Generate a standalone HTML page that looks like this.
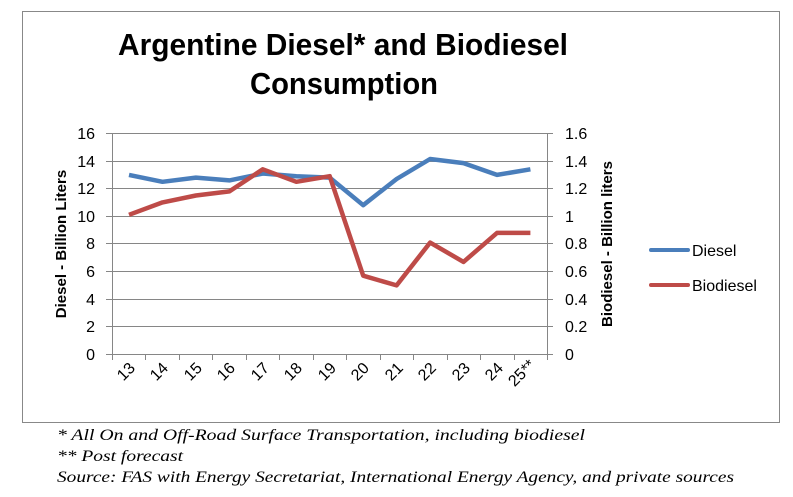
<!DOCTYPE html>
<html><head><meta charset="utf-8"><style>
html,body{margin:0;padding:0;background:#fff;}
svg{display:block;}
</style></head><body>
<svg width="793" height="497" xmlns="http://www.w3.org/2000/svg" font-family="Liberation Sans, sans-serif">
<rect x="0" y="0" width="793" height="497" fill="#fff"/>
<rect x="22.5" y="11.5" width="757" height="411" fill="#fff" stroke="#888" stroke-width="1"/>
<text x="343" y="55" text-anchor="middle" font-size="31" font-weight="bold" textLength="450" lengthAdjust="spacingAndGlyphs">Argentine Diesel* and Biodiesel</text>
<text x="344" y="94" text-anchor="middle" font-size="31" font-weight="bold" textLength="188" lengthAdjust="spacingAndGlyphs">Consumption</text>
<g stroke="#868686" stroke-width="1">
<line x1="106" y1="133.5" x2="553" y2="133.5"/>
<line x1="106" y1="161.5" x2="553" y2="161.5"/>
<line x1="106" y1="188.5" x2="553" y2="188.5"/>
<line x1="106" y1="216.5" x2="553" y2="216.5"/>
<line x1="106" y1="243.5" x2="553" y2="243.5"/>
<line x1="106" y1="271.5" x2="553" y2="271.5"/>
<line x1="106" y1="299.5" x2="553" y2="299.5"/>
<line x1="106" y1="326.5" x2="553" y2="326.5"/>
<line x1="106" y1="354.5" x2="553" y2="354.5"/>
<line x1="112.5" y1="133" x2="112.5" y2="360"/>
<line x1="547.5" y1="133" x2="547.5" y2="360"/>
<line x1="145.5" y1="354" x2="145.5" y2="360"/><line x1="179.5" y1="354" x2="179.5" y2="360"/>
<line x1="212.5" y1="354" x2="212.5" y2="360"/><line x1="246.5" y1="354" x2="246.5" y2="360"/>
<line x1="279.5" y1="354" x2="279.5" y2="360"/><line x1="313.5" y1="354" x2="313.5" y2="360"/>
<line x1="346.5" y1="354" x2="346.5" y2="360"/><line x1="380.5" y1="354" x2="380.5" y2="360"/>
<line x1="413.5" y1="354" x2="413.5" y2="360"/><line x1="447.5" y1="354" x2="447.5" y2="360"/>
<line x1="480.5" y1="354" x2="480.5" y2="360"/><line x1="514.5" y1="354" x2="514.5" y2="360"/>
</g>
<g font-size="16" fill="#000" text-anchor="end">
<text x="95" y="139">16</text><text x="95" y="167">14</text><text x="95" y="194">12</text>
<text x="95" y="222">10</text><text x="95" y="249">8</text><text x="95" y="277">6</text>
<text x="95" y="305">4</text><text x="95" y="332">2</text><text x="95" y="360">0</text>
</g>
<g font-size="16" fill="#000">
<text x="565" y="139">1.6</text><text x="565" y="167">1.4</text><text x="565" y="194">1.2</text>
<text x="565" y="222">1</text><text x="565" y="249">0.8</text><text x="565" y="277">0.6</text>
<text x="565" y="305">0.4</text><text x="565" y="332">0.2</text><text x="565" y="360">0</text>
</g>
<text transform="translate(66,244) rotate(-90)" text-anchor="middle" font-size="15" font-weight="bold">Diesel - Billion Liters</text>
<text transform="translate(612,244) rotate(-90)" text-anchor="middle" font-size="15" font-weight="bold">Biodiesel - Billion liters</text>
<g font-size="16" text-anchor="end">
<text transform="translate(136,369) rotate(-45)">13</text>
<text transform="translate(169,369) rotate(-45)">14</text>
<text transform="translate(203,369) rotate(-45)">15</text>
<text transform="translate(236,369) rotate(-45)">16</text>
<text transform="translate(270,369) rotate(-45)">17</text>
<text transform="translate(303,369) rotate(-45)">18</text>
<text transform="translate(337,369) rotate(-45)">19</text>
<text transform="translate(370,369) rotate(-45)">20</text>
<text transform="translate(404,369) rotate(-45)">21</text>
<text transform="translate(437,369) rotate(-45)">22</text>
<text transform="translate(471,369) rotate(-45)">23</text>
<text transform="translate(504,369) rotate(-45)">24</text>
<text transform="translate(536,366) rotate(-45)">25**</text>
</g>
<polyline fill="none" stroke="#4a7ebb" stroke-width="4.5" stroke-linejoin="round" points="129,174.9 162.5,181.8 195.9,177.6 229.4,180.4 262.8,173.5 296.3,176.2 329.7,177.6 363.2,205.2 396.6,179 430.1,159 463.5,163.1 497,174.9 530.4,169.3"/>
<polyline fill="none" stroke="#be4b48" stroke-width="4.5" stroke-linejoin="round" points="129,214.8 162.5,202.4 195.9,195.5 229.4,191.4 262.8,169.3 296.3,181.8 329.7,176.2 363.2,275.7 396.6,285.4 430.1,242.6 463.5,261.9 497,232.9 530.4,232.9"/>
<line x1="651" y1="250" x2="688" y2="250" stroke="#4a7ebb" stroke-width="4" stroke-linecap="round"/>
<line x1="651" y1="285" x2="688" y2="285" stroke="#be4b48" stroke-width="4" stroke-linecap="round"/>
<text x="692" y="256" font-size="16">Diesel</text>
<text x="692" y="291" font-size="16">Biodiesel</text>
<g font-family="Liberation Serif, serif" font-style="italic" font-size="16">
<text x="57" y="440" textLength="528" lengthAdjust="spacingAndGlyphs">* All On and Off-Road Surface Transportation, including biodiesel</text>
<text x="57" y="461" textLength="126" lengthAdjust="spacingAndGlyphs">** Post forecast</text>
<text x="57" y="482" textLength="677" lengthAdjust="spacingAndGlyphs">Source: FAS with Energy Secretariat, International Energy Agency, and private sources</text>
</g>
</svg>
</body></html>
